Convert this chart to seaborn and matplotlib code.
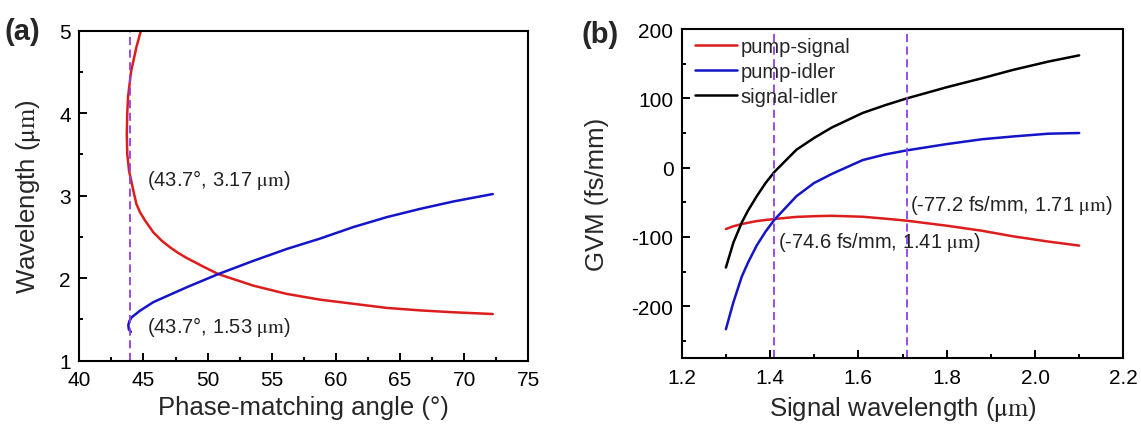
import numpy as np
import pandas as pd
import matplotlib
matplotlib.use("Agg")
import matplotlib.pyplot as plt
import seaborn as sns
from matplotlib.ticker import MultipleLocator

# (a) phase-matching curves: angle (deg) vs wavelength (um)
signal_angle = [44.80, 44.45, 44.03, 43.80, 43.74, 43.70, 43.74, 43.88, 44.02, 44.30,
                44.45, 44.73, 45.12, 45.77, 46.42, 47.07, 47.72, 48.37, 49.67, 50.83,
                53.56, 56.16, 58.76, 61.36, 63.96, 66.55, 69.15, 72.22]
signal_wl = [5.00, 4.80, 4.50, 4.20, 4.00, 3.75, 3.50, 3.30, 3.20, 3.00,
             2.90, 2.80, 2.70, 2.556, 2.455, 2.375, 2.305, 2.245, 2.14, 2.05,
             1.91, 1.81, 1.74, 1.69, 1.64, 1.61, 1.587, 1.566]
idler_angle = [44.02, 43.86, 43.82, 43.90, 44.08, 44.73, 45.77, 48.37, 50.83,
               53.56, 56.16, 58.76, 61.36, 63.96, 66.55, 69.15, 72.22]
idler_wl = [1.35, 1.38, 1.43, 1.48, 1.526, 1.606, 1.71, 1.89, 2.05,
            2.21, 2.354, 2.48, 2.62, 2.74, 2.84, 2.93, 3.02]
angle_mark = 43.95

# (b) group velocity mismatch vs signal wavelength
signal_wl_b = [1.30, 1.317, 1.336, 1.35, 1.37, 1.39, 1.41, 1.46, 1.50, 1.54,
               1.61, 1.66, 1.71, 1.80, 1.88, 1.95, 2.03, 2.10]
gvm_pump_signal = [-88.5, -84.5, -81.3, -79.5, -77, -75.5, -74, -71, -70, -69.4,
                   -70.8, -73.5, -76.5, -83.7, -91, -99, -106.6, -112.4]
gvm_pump_idler = [-233, -194, -157, -137, -112, -92, -75, -41, -22, -9,
                  11, 19, 25, 34, 41, 45, 49, 50]
gvm_signal_idler = [-144, -108, -79, -62, -41, -22, -6, 26, 43, 58,
                    79, 90, 100, 116, 129, 141, 153, 162]
wl_marks = [1.408, 1.709]

sns.set_style("ticks")
plt.rcParams["font.family"] = ["Liberation Sans", "DejaVu Sans"]
plt.rcParams["mathtext.fontset"] = "stix"
plt.rcParams["axes.unicode_minus"] = False
plt.rcParams["axes.linewidth"] = 1.5
for ax_ in ("x", "y"):
    plt.rcParams[f"{ax_}tick.direction"] = "in"
    plt.rcParams[f"{ax_}tick.major.size"] = 5.5
    plt.rcParams[f"{ax_}tick.minor.size"] = 3
    plt.rcParams[f"{ax_}tick.major.width"] = 1.4
    plt.rcParams[f"{ax_}tick.minor.width"] = 1.4
    plt.rcParams[f"{ax_}tick.labelsize"] = 15
    plt.rcParams[f"{ax_}tick.color"] = "black"

RED = "#dd1c1c"
BLUE = "#1414c8"
DASH = "#8a3ff0"
UM = r"$\mathrm{\mu m}$"

fig = plt.figure(figsize=(11.41, 4.27), dpi=100)
ax1 = fig.add_axes([0.0695, 0.1529, 0.3936, 0.7729])
ax2 = fig.add_axes([0.5975, 0.1585, 0.3870, 0.7712])

# panel (a) -- curves fold back in angle, so keep point order and no aggregation
df_s = pd.DataFrame({"angle": signal_angle, "wl": signal_wl})
df_i = pd.DataFrame({"angle": idler_angle, "wl": idler_wl})
sns.lineplot(data=df_s, x="angle", y="wl", sort=False, estimator=None,
             color=RED, lw=1.8, ax=ax1)
sns.lineplot(data=df_i, x="angle", y="wl", sort=False, estimator=None,
             color=BLUE, lw=1.8, ax=ax1)
ax1.axvline(angle_mark, color=DASH, lw=1.3, dashes=(4.5, 2.5))
ax1.set_xlim(40, 75)
ax1.set_ylim(1, 5)
ax1.xaxis.set_major_locator(MultipleLocator(5))
ax1.xaxis.set_minor_locator(MultipleLocator(2.5))
ax1.yaxis.set_major_locator(MultipleLocator(1))
ax1.yaxis.set_minor_locator(MultipleLocator(0.5))
ax1.set_xlabel("Phase-matching angle (°)", fontsize=18.5, labelpad=4)
ax1.set_ylabel("Wavelength (" + UM + ")", fontsize=18.5, labelpad=12)
ax1.text(45.3, 3.2, "(43.7°, 3.17 " + UM + ")", fontsize=14.5, va="center", color="#222222")
ax1.text(45.25, 1.424, "(43.7°, 1.53 " + UM + ")", fontsize=14.5, va="center", color="#222222")

# panel (b)
df_b = pd.DataFrame({
    "wl": signal_wl_b * 3,
    "gvm": gvm_pump_signal + gvm_pump_idler + gvm_signal_idler,
    "pair": ["pump-signal"] * len(signal_wl_b) + ["pump-idler"] * len(signal_wl_b)
            + ["signal-idler"] * len(signal_wl_b),
})
sns.lineplot(data=df_b, x="wl", y="gvm", hue="pair", estimator=None,
             palette={"pump-signal": RED, "pump-idler": BLUE, "signal-idler": "black"},
             lw=1.8, ax=ax2)
for m in wl_marks:
    ax2.axvline(m, color=DASH, lw=1.3, dashes=(4.5, 2.5))
ax2.set_xlim(1.2, 2.2)
ax2.set_ylim(-275, 200)
ax2.xaxis.set_major_locator(MultipleLocator(0.2))
ax2.xaxis.set_minor_locator(MultipleLocator(0.1))
ax2.yaxis.set_major_locator(MultipleLocator(100))
ax2.yaxis.set_minor_locator(MultipleLocator(50))
ax2.xaxis.set_major_formatter(plt.FuncFormatter(lambda v, p: f"{v:.1f}"))
ax2.set_xlabel("Signal wavelength (" + UM + ")", fontsize=18.5, labelpad=5)
ax2.set_ylabel("GVM (fs/mm)", fontsize=18.5, labelpad=16)
ax2.text(1.718, -52.6, "(-77.2 fs/mm, 1.71 " + UM + ")", fontsize=14.5, va="center", color="#222222")
ax2.text(1.4175, -106.6, "(-74.6 fs/mm, 1.41 " + UM + ")", fontsize=14.5, va="center", color="#222222")
leg = ax2.legend(loc="upper left", bbox_to_anchor=(0.03, 0.975), frameon=False,
                 fontsize=14.5, handlelength=2.1, handletextpad=0.15,
                 labelspacing=0.3, borderpad=0, borderaxespad=0)
for line in leg.get_lines():
    line.set_linewidth(1.8)

for ax in (ax1, ax2):
    for s in ax.spines.values():
        s.set_visible(True)
        s.set_linewidth(1.5)
        s.set_color("black")
    ax.tick_params(which="both", top=False, right=False)
    ax.tick_params(axis="x", which="major", pad=7)
    ax.tick_params(axis="y", which="major", pad=6)

fig.text(0.004, 0.925, "(a)", fontsize=21, fontweight="bold", va="center")
fig.text(0.510, 0.918, "(b)", fontsize=21, fontweight="bold", va="center")

fig.savefig("out.png", dpi=100)
